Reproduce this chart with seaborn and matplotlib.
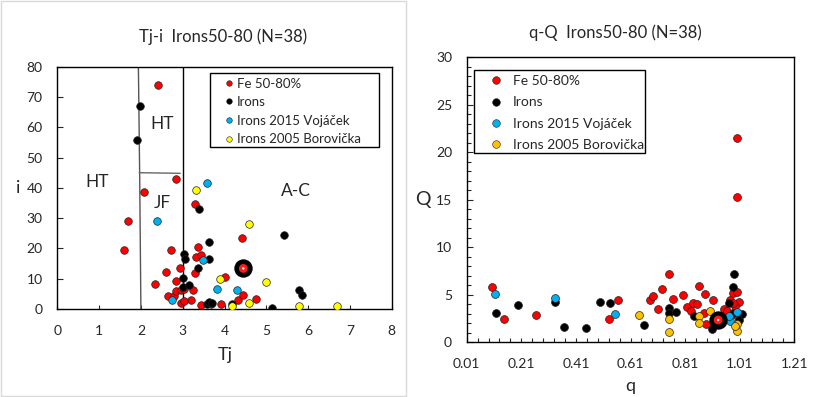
import matplotlib
matplotlib.use("Agg")
import matplotlib.pyplot as plt
from matplotlib.lines import Line2D
from matplotlib.patches import Rectangle
from matplotlib.ticker import MultipleLocator, FixedLocator
import seaborn as sns

# Tj-i panel
fe_tj = [2.42, 2.08, 2.85, 1.70, 1.60, 3.30, 3.37, 2.73, 3.32, 3.44, 2.59, 3.30, 2.34, 2.85, 2.94, 3.25,
         4.43, 4.02, 2.66, 2.80, 2.85, 2.95, 3.03, 3.21, 2.97, 3.02, 3.44, 3.67, 3.92, 4.33, 4.45, 4.75]
fe_i = [73.8, 38.5, 42.8, 28.9, 19.4, 34.7, 20.6, 19.5, 17.1, 17.7, 12.1, 12.0, 8.1, 9.3, 13.7, 6.3,
        23.3, 10.6, 4.4, 4.4, 5.9, 6.2, 6.6, 3.0, 1.9, 2.7, 1.4, 1.6, 1.8, 3.0, 4.6, 3.3]
ir_tj = [1.99, 1.91, 3.40, 3.64, 5.42, 3.03, 3.06, 3.64, 3.37, 3.00, 3.00, 3.16, 3.57, 3.64, 3.69, 5.14, 5.79, 5.85, 4.19]
ir_i = [67.1, 55.9, 33.1, 22.0, 24.3, 18.2, 16.6, 16.6, 13.7, 10.2, 7.4, 8.0, 1.7, 2.4, 1.9, 0.3, 6.3, 4.5, 1.6]
vo_tj = [3.59, 2.39, 3.49, 3.83, 4.31, 2.75]
vo_i = [41.5, 28.9, 16.1, 6.5, 6.2, 2.9]
bo_tj = [3.31, 4.59, 3.90, 4.99, 4.59, 4.19, 5.79, 6.70]
bo_i = [39.2, 27.9, 9.8, 8.8, 1.9, 1.0, 1.0, 1.0]
mean_tj = [4.45]
mean_i = [13.4]

# q-Q panel
fe_q = [0.999, 0.999, 0.104, 0.146, 0.265, 0.533, 0.566, 0.681, 0.694, 0.712, 0.727, 0.752, 0.767, 0.804, 0.818, 0.832,
        0.839, 0.852, 0.862, 0.880, 0.884, 0.888, 0.911, 0.952, 0.962, 0.974, 0.986, 0.999, 1.008, 0.992, 0.984, 0.997]
fe_Q = [21.5, 15.3, 5.8, 2.5, 2.9, 2.5, 4.5, 4.5, 4.9, 3.5, 5.6, 7.2, 4.6, 5.0, 3.7, 3.3,
        4.1, 4.0, 5.9, 3.1, 5.1, 1.9, 4.5, 3.5, 3.3, 4.5, 5.2, 5.3, 4.2, 3.8, 4.1, 2.9]
ir_q = [0.119, 0.199, 0.334, 0.367, 0.448, 0.499, 0.536, 0.661, 0.752, 0.750, 0.778, 0.843, 0.910, 0.988, 0.984,
        0.972, 0.984, 1.017, 1.008]
ir_Q = [3.1, 3.9, 4.2, 1.65, 1.55, 4.2, 4.1, 1.8, 3.6, 3.05, 3.2, 2.8, 1.4, 7.2, 5.8, 4.1, 3.05, 2.95, 2.35]
vo_q = [0.112, 0.334, 0.554, 1.001, 0.975, 0.970]
vo_Q = [5.05, 4.7, 2.95, 3.2, 2.2, 2.8]
bo_q = [0.642, 0.752, 0.752, 0.862, 0.862, 0.901, 1.001, 1.001, 0.993]
bo_Q = [2.9, 2.5, 1.1, 2.8, 2.0, 3.3, 1.9, 1.2, 1.7]
mean_q = [0.931]
mean_Q = [2.35]

labels = ["Fe 50-80%", "Irons", "Irons 2015 Vojáček", "Irons 2005 Borovička"]

sns.set_style("white")
plt.rcParams["font.family"] = ["Lato", "DejaVu Sans"]

W, H = 819, 397
fig = plt.figure(figsize=(W / 100, H / 100), dpi=100)


def px_rect(x0, y0, x1, y1):
    return [x0 / W, 1 - y1 / H, (x1 - x0) / W, (y1 - y0) / H]


def draw_points(ax, series, colors, size):
    for (x, y), c in zip(series, colors):
        sns.scatterplot(x=x, y=y, color=c, s=size, edgecolor="#222222", linewidth=0.5, ax=ax, zorder=3)


def draw_mean(ax, x, y):
    sns.scatterplot(x=x, y=y, color="black", s=175, edgecolor="black", linewidth=0, ax=ax, zorder=5)
    sns.scatterplot(x=x, y=y, color="#ff1a1a", s=40, edgecolor="none", linewidth=0, ax=ax, zorder=6)
    sns.scatterplot(x=x, y=y, color="white", s=3, edgecolor="none", linewidth=0, ax=ax, zorder=7)


def style_axes(ax):
    for sp in ax.spines.values():
        sp.set_visible(True)
        sp.set_color("black")
        sp.set_linewidth(1.0)
    ax.set_xlabel("")
    ax.set_ylabel("")


# frame around left picture
fig.patches.append(Rectangle((0.5 / W, 1.5 / H), 405.5 / W, 394.5 / H, transform=fig.transFigure,
                             fill=False, edgecolor="#d9d9d9", linewidth=1.0))

# ---- left
ax1 = fig.add_axes(px_rect(57.3, 66.7, 391.7, 309))
left_cols = ["#ff0000", "#000000", "#00b0f0", "#ffff00"]
draw_points(ax1, [(fe_tj, fe_i), (ir_tj, ir_i), (vo_tj, vo_i), (bo_tj, bo_i)], left_cols, 30)
draw_mean(ax1, mean_tj, mean_i)
ax1.plot([1.94, 1.97, 2.0], [80, 45, 0], color="#555555", lw=1.0, zorder=2)
ax1.plot([3, 3], [0, 80], color="black", lw=1.0, zorder=2)
ax1.plot([1.96, 2.94], [45, 44.8], color="#666666", lw=1.0, zorder=2)
ax1.set_xlim(0, 8)
ax1.set_ylim(0, 80)
ax1.xaxis.set_major_locator(MultipleLocator(1))
ax1.yaxis.set_major_locator(MultipleLocator(10))
ax1.tick_params(axis="x", direction="in", length=3, width=0.8, labelsize=10, pad=11.5, bottom=True)
ax1.tick_params(axis="y", direction="in", length=4, width=0.8, labelsize=10, pad=10.5, left=True)
style_axes(ax1)
for txt, x, y in [("HT", 0.96, 42), ("HT", 2.5, 61), ("JF", 2.5, 35), ("A-C", 5.7, 39)]:
    ax1.text(x, y, txt, fontsize=12.5, ha="center", va="center", zorder=4)
fig.text(223 / W, 1 - 37 / H, "Tj-i  Irons50-80 (N=38)", fontsize=12, ha="center", va="center")
fig.text(225 / W, 1 - 355 / H, "Tj", fontsize=13, ha="center", va="center")
fig.text(18 / W, 1 - 188 / H, "i", fontsize=13, ha="center", va="center")

h1 = [Line2D([], [], marker="o", ls="none", markersize=4, markerfacecolor=c, markeredgecolor="#222222",
             markeredgewidth=0.4) for c in left_cols]
fig.patches.append(Rectangle((210.3 / W, 1 - 147 / H), 168.9 / W, 73.7 / H, transform=fig.transFigure,
                             fill=False, edgecolor="black", linewidth=1.0, zorder=10))
fig.legend(h1, labels, loc="upper left", bbox_to_anchor=(226 / W, 1 - 77.5 / H), frameon=False,
           fontsize=9.5, handlelength=0.5, handletextpad=0.35, labelspacing=0.5, borderpad=0, borderaxespad=0)

# ---- right
ax2 = fig.add_axes(px_rect(466.7, 57.3, 794.3, 342.3))
right_cols = ["#ff0000", "#000000", "#00b0f0", "#ffc000"]
draw_points(ax2, [(fe_q, fe_Q), (ir_q, ir_Q), (vo_q, vo_Q), (bo_q, bo_Q)], right_cols, 32)
draw_mean(ax2, mean_q, mean_Q)
ax2.set_xlim(0.01, 1.21)
ax2.set_ylim(0, 30)
ax2.xaxis.set_major_locator(FixedLocator([0.01, 0.21, 0.41, 0.61, 0.81, 1.01, 1.21]))
ax2.xaxis.set_minor_locator(FixedLocator([0.01 + 0.04 * k for k in range(31)]))
ax2.set_xticklabels(["0.01", "0.21", "0.41", "0.61", "0.81", "1.01", "1.21"])
ax2.yaxis.set_major_locator(MultipleLocator(5))
ax2.yaxis.set_minor_locator(MultipleLocator(1))
ax2.tick_params(axis="x", which="both", direction="in", length=3, width=0.8, labelsize=10, pad=11.5, bottom=True)
ax2.tick_params(axis="y", which="major", direction="in", length=4, width=0.8, labelsize=10, pad=10.5, left=True)
ax2.tick_params(axis="y", which="minor", direction="in", length=3, width=0.8, left=True)
style_axes(ax2)
fig.text(615.7 / W, 1 - 33 / H, "q-Q  Irons50-80 (N=38)", fontsize=12, ha="center", va="center")
fig.text(630.7 / W, 1 - 386 / H, "q", fontsize=13, ha="center", va="center")
fig.text(423 / W, 1 - 200 / H, "Q", fontsize=14, ha="center", va="center")

h2 = [Line2D([], [], marker="o", ls="none", markersize=5.5, markerfacecolor=c, markeredgecolor="#222222",
             markeredgewidth=0.4) for c in right_cols]
fig.patches.append(Rectangle((474.3 / W, 1 - 153.3 / H), 171 / W, 83 / H, transform=fig.transFigure,
                             fill=False, edgecolor="black", linewidth=1.0, zorder=10))
fig.legend(h2, labels, loc="upper left", bbox_to_anchor=(492 / W, 1 - 75 / H), frameon=False,
           fontsize=10, handlelength=0.6, handletextpad=0.9, labelspacing=0.68, borderpad=0, borderaxespad=0)

fig.savefig("out.png", dpi=100)
